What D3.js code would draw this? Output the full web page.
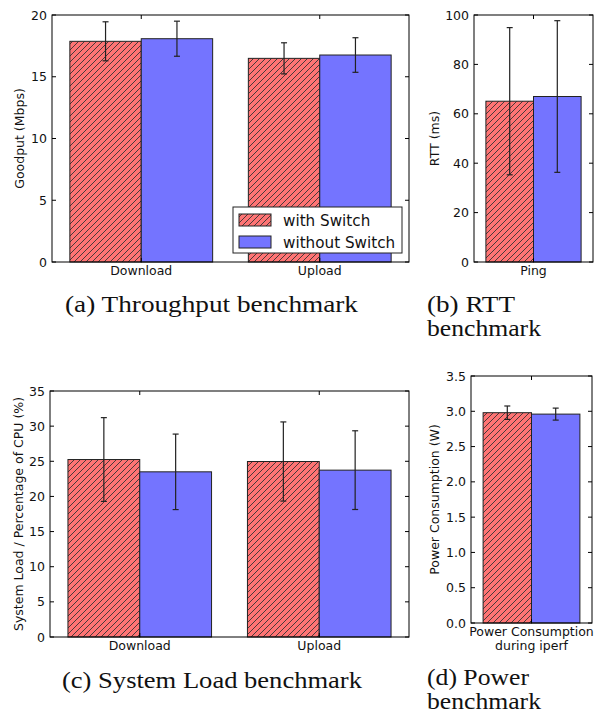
<!DOCTYPE html>
<html>
<head>
<meta charset="utf-8">
<script src="https://cdn.jsdelivr.net/npm/d3@7"></script>
<style>
  body { margin: 0; background: #fff; }
  svg { display: block; }
</style>
</head>
<body>
<svg id="chart" width="600" height="715"></svg>
<script>
// data
const seriesNames = ["with Switch", "without Switch"];

const goodputGroups = ["Download", "Upload"];
const goodputWith = [17.87, 16.49];
const goodputWithErr = [1.58, 1.26];
const goodputWithout = [18.08, 16.76];
const goodputWithoutErr = [1.42, 1.40];
const goodputTicks = [0, 5, 10, 15, 20];

const rttGroups = ["Ping"];
const rttWith = [65.1];
const rttWithErr = [29.8];
const rttWithout = [67.0];
const rttWithoutErr = [30.7];
const rttTicks = [0, 20, 40, 60, 80, 100];

const loadGroups = ["Download", "Upload"];
const loadWith = [25.25, 24.97];
const loadWithErr = [5.96, 5.63];
const loadWithout = [23.5, 23.74];
const loadWithoutErr = [5.37, 5.6];
const loadTicks = [0, 5, 10, 15, 20, 25, 30, 35];

const powerGroups = [["Power Consumption", "during iperf"]];
const powerWith = [2.98];
const powerWithErr = [0.095];
const powerWithout = [2.96];
const powerWithoutErr = [0.085];
const powerTicks = [0, 0.5, 1.0, 1.5, 2.0, 2.5, 3.0, 3.5];

const red = "#ff7474", blue = "#7474ff";
const tickFont = "DejaVu Sans, sans-serif";

const svg = d3.select("#chart");

// hatch for the "with Switch" bars
const defs = svg.append("defs");
const pat = defs.append("pattern")
  .attr("id", "hatch")
  .attr("patternUnits", "userSpaceOnUse")
  .attr("width", 6)
  .attr("height", 6);
pat.append("rect").attr("width", 6).attr("height", 6).attr("fill", red);
pat.append("path")
  .attr("d", "M0,6 L6,0 M-1.5,1.5 L1.5,-1.5 M4.5,7.5 L7.5,4.5")
  .attr("stroke", "#333")
  .attr("stroke-width", 0.9);

function drawPanel({ groups, withVals, withErr, withoutVals, withoutErr, ticks, yMax, fmt, yLabel, box, labelX }) {
  const { left, right, top, bottom } = box;
  const n = groups.length;
  const x = d3.scaleLinear().domain([-0.1, n - 0.1]).range([left, right]);
  const y = d3.scaleLinear().domain([0, yMax]).range([bottom, top]);
  const g = svg.append("g");

  const bars = [];
  groups.forEach((grp, i) => {
    bars.push({ x0: i, v: withVals[i], e: withErr[i], fill: "url(#hatch)" });
    bars.push({ x0: i + 0.4, v: withoutVals[i], e: withoutErr[i], fill: blue });
  });

  g.selectAll("rect.bar")
    .data(bars)
    .join("rect")
    .attr("class", "bar")
    .attr("x", d => x(d.x0))
    .attr("width", d => x(d.x0 + 0.4) - x(d.x0))
    .attr("y", d => y(d.v))
    .attr("height", d => y(0) - y(d.v))
    .attr("fill", d => d.fill)
    .attr("stroke", "#222")
    .attr("stroke-width", 1);

  // error bars
  const eb = g.append("g").attr("stroke", "#222").attr("stroke-width", 1.2);
  bars.forEach(d => {
    const cx = x(d.x0 + 0.2);
    eb.append("line").attr("x1", cx).attr("x2", cx).attr("y1", y(d.v - d.e)).attr("y2", y(d.v + d.e));
    [d.v - d.e, d.v + d.e].forEach(v => {
      eb.append("line").attr("x1", cx - 3).attr("x2", cx + 3).attr("y1", y(v)).attr("y2", y(v));
    });
  });

  // frame
  g.append("rect")
    .attr("x", left).attr("y", top)
    .attr("width", right - left).attr("height", bottom - top)
    .attr("fill", "none").attr("stroke", "#000").attr("stroke-width", 1);

  // inward ticks on all sides
  const tk = g.append("g").attr("stroke", "#000").attr("stroke-width", 1);
  ticks.forEach(t => {
    tk.append("line").attr("x1", left).attr("x2", left + 4).attr("y1", y(t)).attr("y2", y(t));
    tk.append("line").attr("x1", right).attr("x2", right - 4).attr("y1", y(t)).attr("y2", y(t));
  });
  groups.forEach((grp, i) => {
    const cx = x(i + 0.4);
    tk.append("line").attr("x1", cx).attr("x2", cx).attr("y1", bottom).attr("y2", bottom - 4);
    tk.append("line").attr("x1", cx).attr("x2", cx).attr("y1", top).attr("y2", top + 4);
  });

  g.append("g")
    .attr("font-family", tickFont).attr("font-size", 12.5).attr("fill", "#111")
    .attr("text-anchor", "end")
    .selectAll("text")
    .data(ticks)
    .join("text")
    .attr("x", left - 5)
    .attr("y", d => y(d))
    .attr("dy", "0.36em")
    .text(fmt);

  groups.forEach((grp, i) => {
    const lines = Array.isArray(grp) ? grp : [grp];
    lines.forEach((ln, k) => {
      g.append("text")
        .attr("font-family", tickFont).attr("font-size", 12.5).attr("fill", "#111")
        .attr("text-anchor", "middle")
        .attr("x", x(i + 0.4)).attr("y", bottom + 13 + k * 14)
        .text(ln);
    });
  });

  g.append("text")
    .attr("font-family", tickFont).attr("font-size", 12.5).attr("fill", "#111")
    .attr("text-anchor", "middle")
    .attr("transform", `translate(${labelX},${(top + bottom) / 2}) rotate(-90)`)
    .attr("dy", "0.3em")
    .text(yLabel);
}

drawPanel({
  groups: goodputGroups, withVals: goodputWith, withErr: goodputWithErr,
  withoutVals: goodputWithout, withoutErr: goodputWithoutErr,
  ticks: goodputTicks, yMax: 20, fmt: d3.format("d"), yLabel: "Goodput (Mbps)",
  box: { left: 52, right: 409, top: 15, bottom: 262 }, labelX: 20
});
drawPanel({
  groups: rttGroups, withVals: rttWith, withErr: rttWithErr,
  withoutVals: rttWithout, withoutErr: rttWithoutErr,
  ticks: rttTicks, yMax: 100, fmt: d3.format("d"), yLabel: "RTT (ms)",
  box: { left: 474, right: 593, top: 15, bottom: 262 }, labelX: 435
});
drawPanel({
  groups: loadGroups, withVals: loadWith, withErr: loadWithErr,
  withoutVals: loadWithout, withoutErr: loadWithoutErr,
  ticks: loadTicks, yMax: 35, fmt: d3.format("d"), yLabel: "System Load / Percentage of CPU (%)",
  box: { left: 50, right: 409, top: 391, bottom: 637 }, labelX: 19
});
drawPanel({
  groups: powerGroups, withVals: powerWith, withErr: powerWithErr,
  withoutVals: powerWithout, withoutErr: powerWithoutErr,
  ticks: powerTicks, yMax: 3.5, fmt: d3.format(".1f"), yLabel: "Power Consumption (W)",
  box: { left: 471, right: 592, top: 376, bottom: 623 }, labelX: 435
});

// legend in panel (a)
const leg = svg.append("g");
leg.append("rect")
  .attr("x", 233).attr("y", 207).attr("width", 169).attr("height", 46)
  .attr("fill", "#fff").attr("stroke", "#222").attr("stroke-width", 1);
leg.selectAll("rect.sw")
  .data(seriesNames)
  .join("rect")
  .attr("class", "sw")
  .attr("x", 239).attr("y", (d, i) => 214 + i * 22)
  .attr("width", 32).attr("height", 12)
  .attr("fill", (d, i) => i ? blue : "url(#hatch)")
  .attr("stroke", "#222");
leg.selectAll("text")
  .data(seriesNames)
  .join("text")
  .attr("x", 283).attr("y", (d, i) => 225.5 + i * 22)
  .attr("font-family", tickFont).attr("font-size", 15.2).attr("fill", "#111")
  .text(d => d);

// sub-figure captions
const captions = [
  { x: 65, y: 312, lines: [["(a) Throughput benchmark", 293]] },
  { x: 427, y: 312, lines: [["(b) RTT", 88], ["benchmark", 114]] },
  { x: 62, y: 688, lines: [["(c) System Load benchmark", 300]] },
  { x: 427, y: 685, lines: [["(d) Power", 102], ["benchmark", 114]] }
];
captions.forEach(c => {
  c.lines.forEach(([s, w], k) => {
    svg.append("text")
      .attr("font-family", "Liberation Serif, serif").attr("font-size", 23).attr("fill", "#111")
      .attr("x", c.x).attr("y", c.y + k * 24)
      .attr("textLength", w).attr("lengthAdjust", "spacingAndGlyphs")
      .text(s);
  });
});
</script>
</body>
</html>
